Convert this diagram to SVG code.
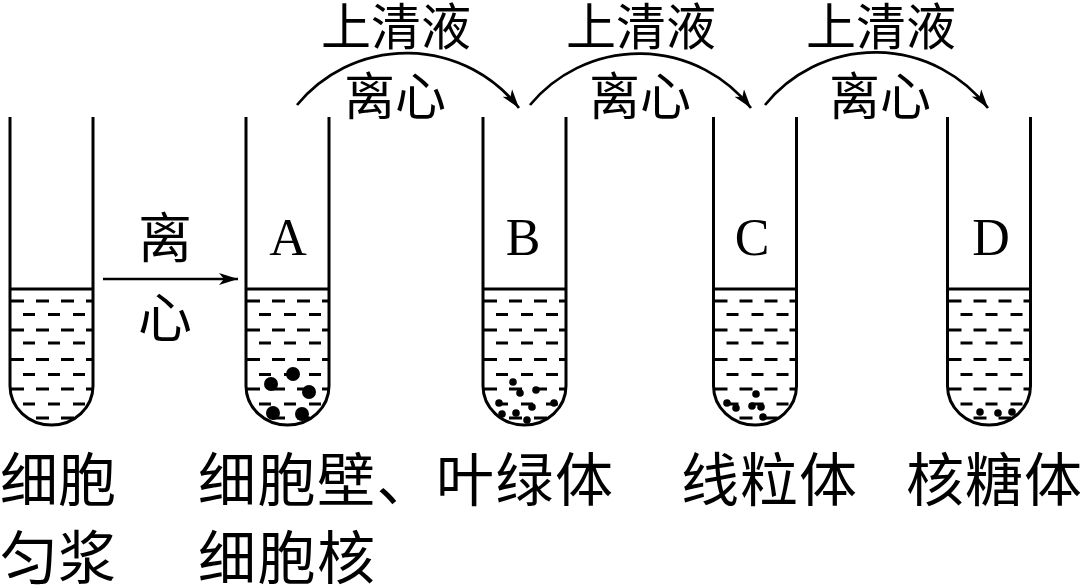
<svg xmlns="http://www.w3.org/2000/svg" width="1080" height="586" viewBox="0 0 1080 586">
<style>
.wall{fill:none;stroke:#000;stroke-width:3;}
.surf{stroke:#000;stroke-width:3;}
.dl{stroke:#000;stroke-width:3;stroke-dasharray:13 12;}
.ds{stroke:#000;stroke-width:3;stroke-dasharray:12 13;}
.arr{fill:none;stroke:#000;stroke-width:2.7;marker-end:url(#ah);}
.cjk{font-family:"Noto Sans CJK SC","Noto Sans CJK JP",sans-serif;fill:#000;}
.lat{font-family:"Liberation Serif",serif;fill:#000;}
</style>
<defs>
<marker id="ah" markerUnits="userSpaceOnUse" markerWidth="22" markerHeight="14" refX="19" refY="7" orient="auto">
<path d="M0,1 L19,7 L0,13 L5,7 Z" fill="#000"/>
</marker>
<clipPath id="inner">
<path d="M0,289 V386 A41.5,39 0 0 0 83,386 V289 Z"/>
</clipPath>
<g id="tube">
<g clip-path="url(#inner)">
<line class="dl" x1="1" y1="301" x2="83" y2="301"/>
<line class="ds" x1="13" y1="314.5" x2="75" y2="314.5"/>
<line class="dl" x1="1" y1="330" x2="83" y2="330"/>
<line class="ds" x1="13" y1="343" x2="75" y2="343"/>
<line class="dl" x1="1" y1="359.5" x2="83" y2="359.5"/>
<line class="ds" x1="13" y1="374.5" x2="75" y2="374.5"/>
<line class="dl" x1="1" y1="389" x2="83" y2="389"/>
<line class="ds" x1="13" y1="404" x2="75" y2="404"/>
<line class="dl" x1="1" y1="418" x2="83" y2="418"/>
</g>
<line class="surf" x1="0" y1="289" x2="83" y2="289"/>
<path class="wall" d="M0,117 V386 A41.5,39 0 0 0 83,386 V117"/>
</g>
</defs>

<g id="tube-homogenate"><use href="#tube" transform="translate(10,0)"/></g>
<g id="tube-A">
<use href="#tube" transform="translate(246,0)"/>
<text class="lat" x="288" y="255" font-size="52" text-anchor="middle">A</text>
<g fill="#000">
<circle cx="293" cy="374" r="7"/><circle cx="271" cy="384" r="7"/><circle cx="309" cy="392" r="7"/>
<circle cx="273" cy="413" r="7"/><circle cx="302" cy="414" r="7"/>
</g>
</g>
<g id="tube-B">
<use href="#tube" transform="translate(483,0)"/>
<text class="lat" x="523" y="255" font-size="52" text-anchor="middle">B</text>
<g fill="#000">
<circle cx="513" cy="382" r="3.8"/><circle cx="520" cy="393" r="3.8"/><circle cx="536" cy="390" r="3.8"/>
<circle cx="499" cy="403" r="3.8"/><circle cx="532" cy="407" r="3.8"/><circle cx="554" cy="403" r="3.8"/>
<circle cx="502" cy="414" r="3.8"/><circle cx="516" cy="413" r="3.8"/><circle cx="527" cy="420" r="3.8"/>
</g>
</g>
<g id="tube-C">
<use href="#tube" transform="translate(713.5,0)"/>
<text class="lat" x="752" y="255" font-size="52" text-anchor="middle">C</text>
<g fill="#000">
<circle cx="756" cy="394" r="3.8"/><circle cx="727" cy="403" r="3.8"/><circle cx="736" cy="408" r="3.8"/>
<circle cx="752" cy="406" r="3.8"/><circle cx="761" cy="407" r="3.8"/><circle cx="763" cy="417" r="3.8"/>
</g>
</g>
<g id="tube-D">
<use href="#tube" transform="translate(947.5,0)"/>
<text class="lat" x="991" y="255" font-size="52" text-anchor="middle">D</text>
<g fill="#000">
<circle cx="980" cy="412" r="3.8"/><circle cx="998" cy="413" r="3.8"/><circle cx="1012" cy="412" r="3.8"/>
</g>
</g>

<g id="connectors">
<line class="arr" x1="103" y1="279" x2="238" y2="279"/>
<path class="arr" d="M297,105 A142,142 0 0 1 519,108"/>
<path class="arr" d="M530,105 A142,142 0 0 1 751,108"/>
<path class="arr" d="M765,105 A142,142 0 0 1 988,108"/>
</g>

<g id="labels">
<text class="cjk" x="165" y="258" font-size="54" text-anchor="middle">离</text>
<text class="cjk" x="165" y="338" font-size="54" text-anchor="middle">心</text>
<text class="cjk" x="396" y="45" font-size="50" text-anchor="middle">上清液</text>
<text class="cjk" x="395" y="115" font-size="51" text-anchor="middle">离心</text>
<text class="cjk" x="641" y="45" font-size="50" text-anchor="middle">上清液</text>
<text class="cjk" x="640" y="115" font-size="51" text-anchor="middle">离心</text>
<text class="cjk" x="881" y="45" font-size="50" text-anchor="middle">上清液</text>
<text class="cjk" x="880" y="115" font-size="51" text-anchor="middle">离心</text>
<text class="cjk" x="0" y="501" font-size="58">细胞</text>
<text class="cjk" x="0" y="579" font-size="58">匀浆</text>
<text class="cjk" x="198" y="501" font-size="58" letter-spacing="1.5">细胞壁、叶绿体</text>
<text class="cjk" x="198" y="579" font-size="58" letter-spacing="1.5">细胞核</text>
<text class="cjk" x="681" y="501" font-size="58" letter-spacing="1">线粒体</text>
<text class="cjk" x="906" y="501" font-size="58" letter-spacing="1">核糖体</text>
</g>
</svg>
